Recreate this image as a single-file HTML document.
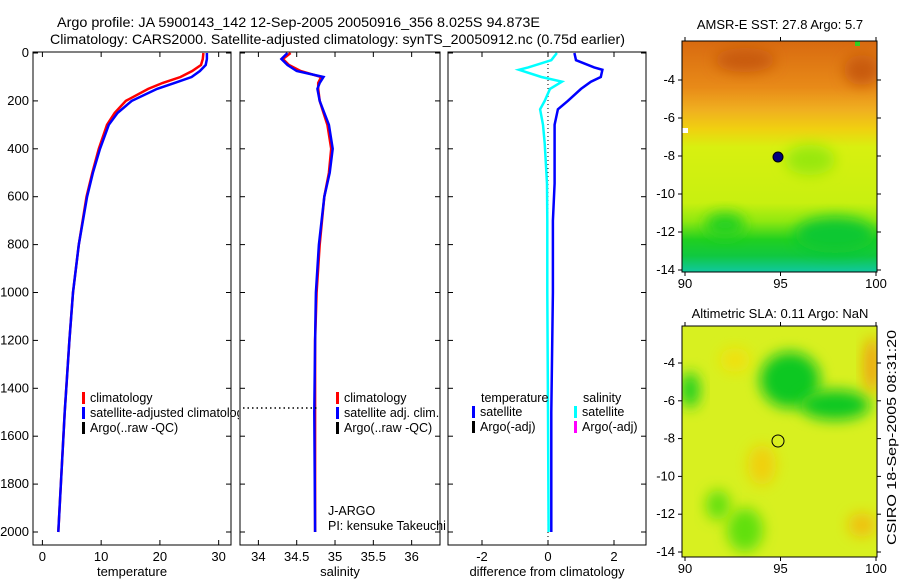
<!DOCTYPE html>
<html><head><meta charset="utf-8"><style>
body{margin:0;background:#fff;width:900px;height:580px;overflow:hidden;font-family:"Liberation Sans",sans-serif}
svg text{font-family:"Liberation Sans",sans-serif;fill:#000}
</style></head><body>
<svg id="s" width="900" height="580" viewBox="0 0 900 580" xmlns="http://www.w3.org/2000/svg">
<defs>
<filter id="bl" x="-50%" y="-50%" width="200%" height="200%"><feGaussianBlur stdDeviation="7"/></filter>
<clipPath id="c1"><rect x="682" y="41" width="195" height="231"/></clipPath>
<clipPath id="c2"><rect x="682" y="326" width="195" height="231"/></clipPath>
<clipPath id="cp1"><rect x="0" y="0" width="239" height="580"/></clipPath>
<clipPath id="cp2"><rect x="0" y="0" width="446" height="580"/></clipPath>
<linearGradient id="sst" x1="0" y1="0" x2="0" y2="1">
<stop offset="0" stop-color="#d86a10"/><stop offset="0.2" stop-color="#e88a18"/><stop offset="0.3" stop-color="#f0b020"/><stop offset="0.38" stop-color="#f0d010"/><stop offset="0.46" stop-color="#d8f010"/><stop offset="0.7" stop-color="#c8f010"/><stop offset="0.78" stop-color="#90e810"/><stop offset="0.86" stop-color="#20d020"/><stop offset="0.93" stop-color="#10c840"/><stop offset="1" stop-color="#10c8a0"/></linearGradient>
</defs>
<text x="57" y="27" textLength="483" lengthAdjust="spacingAndGlyphs" font-size="14">Argo profile: JA 5900143_142 12-Sep-2005 20050916_356 8.025S 94.873E</text>
<text x="50" y="44" textLength="575" lengthAdjust="spacingAndGlyphs" font-size="14">Climatology: CARS2000. Satellite-adjusted climatology: synTS_20050912.nc (0.75d earlier)</text>
<g id="g"></g>
<g>
<g clip-path="url(#c1)">
<rect x="682" y="41" width="195" height="231" fill="url(#sst)"/>
<ellipse cx="835" cy="235" rx="40" ry="18" fill="#10c830" filter="url(#bl)"/>
<ellipse cx="725" cy="225" rx="20" ry="12" fill="#20d020" filter="url(#bl)"/>
<ellipse cx="745" cy="60" rx="30" ry="12" fill="#c85a10" filter="url(#bl)"/>
<ellipse cx="862" cy="70" rx="18" ry="15" fill="#c85a10" filter="url(#bl)"/>
<ellipse cx="810" cy="160" rx="25" ry="15" fill="#98e810" filter="url(#bl)"/>
<rect x="682" y="128" width="6" height="5" fill="#fff"/>
<rect x="855" y="41" width="5" height="5" fill="#30d020"/>
</g>
<rect x="682" y="41" width="195" height="231" fill="none" stroke="#000"/>
<circle cx="778" cy="157" r="5" fill="#000080" stroke="#000"/>
<text x="780" y="29" text-anchor="middle" font-size="13">AMSR-E SST: 27.8 Argo: 5.7</text>
</g>
<g>
<g clip-path="url(#c2)">
<rect x="682" y="326" width="195" height="231" fill="#d8f020"/>
<ellipse cx="790" cy="380" rx="30" ry="28" fill="#10c820" filter="url(#bl)"/>
<ellipse cx="835" cy="405" rx="35" ry="15" fill="#10c820" filter="url(#bl)"/>
<ellipse cx="690" cy="390" rx="10" ry="18" fill="#20d020" filter="url(#bl)"/>
<ellipse cx="762" cy="465" rx="14" ry="20" fill="#f0d010" filter="url(#bl)"/>
<ellipse cx="735" cy="360" rx="15" ry="12" fill="#f0e010" filter="url(#bl)"/>
<ellipse cx="872" cy="365" rx="8" ry="28" fill="#f0a010" filter="url(#bl)"/>
<ellipse cx="862" cy="525" rx="14" ry="12" fill="#f0c010" filter="url(#bl)"/>
<ellipse cx="745" cy="530" rx="18" ry="22" fill="#60e010" filter="url(#bl)"/>
<ellipse cx="718" cy="505" rx="12" ry="15" fill="#60e010" filter="url(#bl)"/>
</g>
<rect x="682" y="326" width="195" height="231" fill="none" stroke="#000"/>
<circle cx="778" cy="441" r="6" fill="none" stroke="#000"/>
<text x="780" y="318" text-anchor="middle" font-size="13">Altimetric SLA: 0.11 Argo: NaN</text>
</g>
<text transform="translate(896,545) rotate(-90)" font-size="13" textLength="215" lengthAdjust="spacingAndGlyphs">CSIRO 18-Sep-2005 08:31:20</text>
</svg>
<script>
const depths=[0,25,50,75,100,125,150,200,250,300,400,500,600,800,1000,1200,1500,2000];
const tempClim=[27.4,27.3,27,25.5,23.5,20.5,18,14.2,12.3,11,9.6,8.5,7.5,6.2,5.2,4.6,3.8,2.7];
const tempSat=[28,28,27.8,26.8,25.4,22.5,19.5,15.2,12.8,11.3,9.8,8.6,7.6,6.2,5.2,4.6,3.8,2.7];
const salClim=[34.42,34.32,34.4,34.55,34.82,34.78,34.78,34.8,34.85,34.9,34.95,34.92,34.86,34.8,34.76,34.74,34.74,34.74];
const salSat=[34.38,34.3,34.38,34.5,34.85,34.8,34.77,34.8,34.86,34.92,34.97,34.93,34.86,34.79,34.75,34.74,34.73,34.74];
const diffDepths=[0,30,60,70,100,120,150,200,235,300,377,545,700,1000,1500,2000];
const diffTemp=[0.8,0.85,1.4,1.65,1.6,1.3,1.0,0.6,0.3,0.2,0.2,0.2,0.15,0.15,0.1,0.1];
const diffSal=[0.27,0.1,-0.6,-0.88,-0.2,0.42,0.06,-0.1,-0.24,-0.15,-0.1,-0.03,-0.02,-0.02,0,0.02];
const yTicks=[0,200,400,600,800,1000,1200,1400,1600,1800,2000];
const tTicks=[0,10,20,30], sTicks=[34,34.5,35,35.5,36], dTicks=[-2,0,2];
const NS="http://www.w3.org/2000/svg", g=document.getElementById('g');
function el(t,a,p){const e=document.createElementNS(NS,t);for(const k in a)e.setAttribute(k,a[k]);(p||g).appendChild(e);return e;}
const Y0=52,Y1=545;
const yS=d=>53+d*0.2395;
function panel(name,x0,x1,xmin,xmax,ticks,lbl,showY){
  const xs=v=>x0+(v-xmin)/(xmax-xmin)*(x1-x0);
  const grp=el('g',{});
  
  
  el('rect',{x:x0,y:Y0,width:x1-x0,height:Y1-Y0,fill:'none',stroke:'#000'},grp);
  ticks.forEach(t=>{const x=xs(t);el('line',{x1:x,x2:x,y1:Y0,y2:Y0+5,stroke:'#000'},grp);el('line',{x1:x,x2:x,y1:Y1,y2:Y1-5,stroke:'#000'},grp);
    const tx=el('text',{x:x,y:561,'text-anchor':'middle','font-size':13},grp);tx.textContent=t;});
  const l=el('text',{x:(x0+x1)/2,y:576,'text-anchor':'middle','font-size':13},grp);l.textContent=lbl;
  yTicks.forEach(d=>{const y=yS(d);el('line',{x1:x0,x2:x0+5,y1:y,y2:y,stroke:'#000'},grp);el('line',{x1:x1,x2:x1-5,y1:y,y2:y,stroke:'#000'},grp);
    if(showY){const t=el('text',{x:x0-4,y:y+4,'text-anchor':'end','font-size':13},grp);t.textContent=d;}});
  return {xs,grp};
}
function line(p,vals,dd,col,name){
  const pts=vals.map((v,i)=>p.xs(v).toFixed(1)+','+yS(dd[i]).toFixed(1)).join(' ');
  const e=el('polyline',{points:pts,fill:'none',stroke:col,'stroke-width':2.5},p.grp);
  
  
}
function legend(grp,x,y,items){items.forEach((it,i)=>{el('rect',{x:x,y:y+i*15-10,width:3,height:12,fill:it[0]},grp);const t=el('text',{x:x+8,y:y+i*15,'font-size':12.5},grp);t.textContent=it[1];});}
const p1=panel('temperature-panel',33,231,-1.6,32.1,tTicks,'temperature',true);
line(p1,tempClim,depths,'#f00','temp-clim-line');
line(p1,tempSat,depths,'#00f','temp-sat-line');
const lg1=el('g',{'clip-path':'url(#cp1)'},p1.grp);
legend(lg1,82,402,[['#f00','climatology'],['#00f','satellite-adjusted climatology'],['#000','Argo(..raw -QC)']]);
const p2=panel('salinity-panel',240,440,33.76,36.37,sTicks,'salinity',false);
line(p2,salClim,depths,'#f00','sal-clim-line');
line(p2,salSat,depths,'#00f','sal-sat-line');
el('line',{x1:243,x2:318,y1:408,y2:408,stroke:'#000','stroke-dasharray':'1.5,3','stroke-width':1.5},p2.grp);
legend(p2.grp,336,402,[['#f00','climatology'],['#00f','satellite adj. clim.'],['#000','Argo(..raw -QC)']]);
const lg2=el('g',{'clip-path':'url(#cp2)'},p2.grp);
let t=el('text',{x:328,y:515,'font-size':12.5},lg2);t.textContent='J-ARGO';
t=el('text',{x:328,y:530,'font-size':12.5},lg2);t.textContent='PI: kensuke Takeuchi';
const p3=panel('difference-panel',448,646,-3.03,2.97,dTicks,'difference from climatology',false);
el('line',{x1:p3.xs(0),x2:p3.xs(0),y1:Y0,y2:Y1,stroke:'#000','stroke-dasharray':'1,3'},p3.grp);
line(p3,diffSal,diffDepths,'#0ff','diff-sal-line');
line(p3,diffTemp,diffDepths,'#00f','diff-temp-line');
t=el('text',{x:481,y:402,'font-size':12.5},p3.grp);t.textContent='temperature';
t=el('text',{x:583,y:402,'font-size':12.5},p3.grp);t.textContent='salinity';
legend(p3.grp,472,416,[['#00f','satellite'],['#000','Argo(-adj)']]);
legend(p3.grp,574,416,[['#0ff','satellite'],['#f0f','Argo(-adj)']]);
function mapAxes(y0,y1,latTicks,latTop,latBot){
  [90,95,100].forEach(v=>{const x=685+(v-90)*19.1;el('line',{x1:x,x2:x,y1:y1,y2:y1+4,stroke:'#000'});el('line',{x1:x,x2:x,y1:y0,y2:y0-4,stroke:'#000'});
   const t=el('text',{x:x,y:y1+16,'text-anchor':'middle','font-size':13});t.textContent=v;});
  latTicks.forEach(v=>{const y=latTop+(v+4)/(-10)*(latBot-latTop);el('line',{x1:678,x2:682,y1:y,y2:y,stroke:'#000'});el('line',{x1:877,x2:881,y1:y,y2:y,stroke:'#000'});
   const t=el('text',{x:675,y:y+4,'text-anchor':'end','font-size':13});t.textContent=v;});
}
mapAxes(41,272,[-4,-6,-8,-10,-12,-14],80,270);
mapAxes(326,557,[-4,-6,-8,-10,-12,-14],363,552);
</script>
</body></html>
